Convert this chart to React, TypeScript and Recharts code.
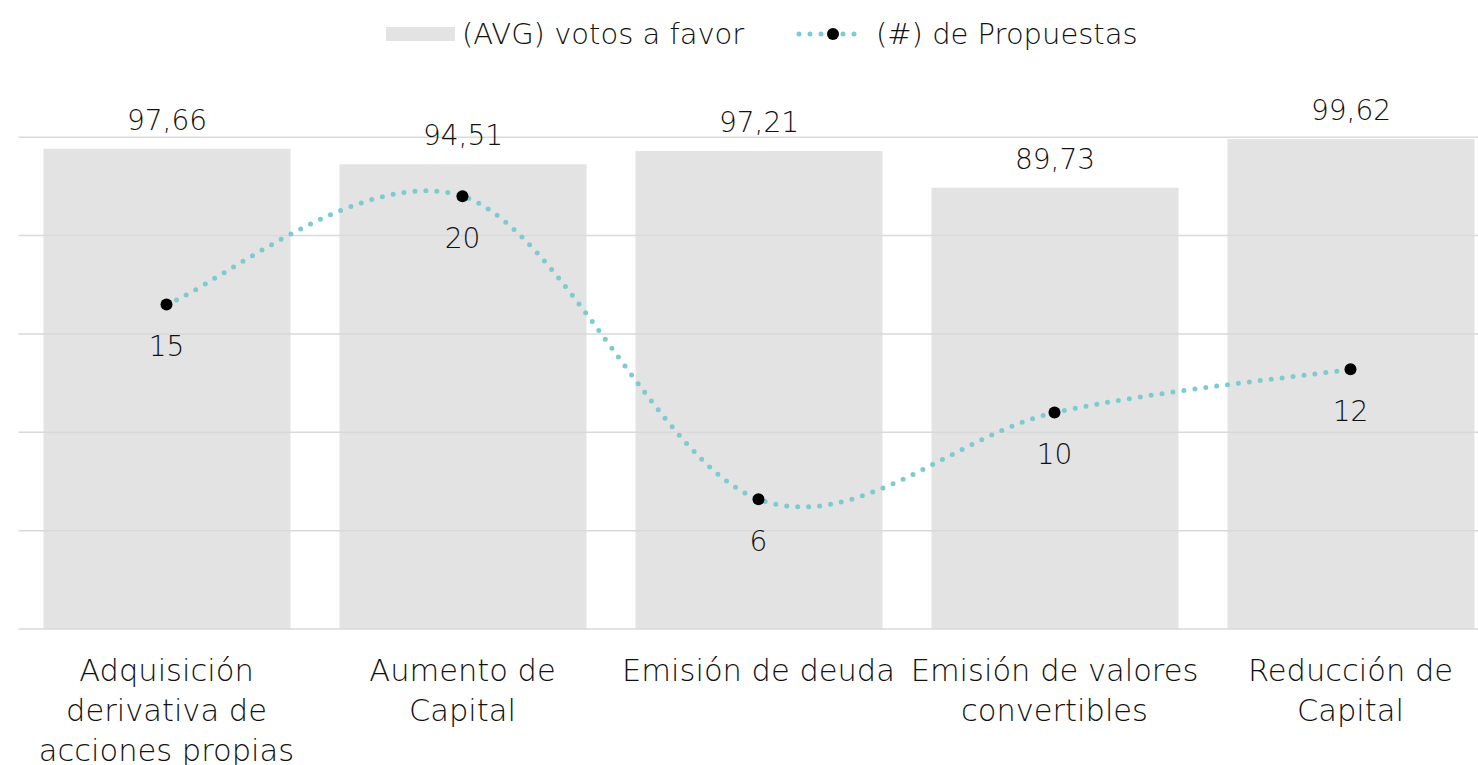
import { ComposedChart, ReferenceLine, XAxis, YAxis, Bar, Line, LabelList } from 'recharts';

const categories = [
  'Adquisición derivativa de acciones propias',
  'Aumento de Capital',
  'Emisión de deuda',
  'Emisión de valores convertibles',
  'Reducción de Capital',
];
const categoryLines = [
  ['Adquisición', 'derivativa de', 'acciones propias'],
  ['Aumento de', 'Capital'],
  ['Emisión de deuda'],
  ['Emisión de valores', 'convertibles'],
  ['Reducción de', 'Capital'],
];
const avgVotes = [97.66, 94.51, 97.21, 89.73, 99.62];
const proposals = [15, 20, 6, 10, 12];
const leftTicks = [0, 20, 40, 60, 80, 100];

const FONT = '"DejaVu Sans", Lato, sans-serif';
const WEIGHT = 200;
const TEXT = '#111';
const BAR = '#e3e3e3';
const TEAL = '#7ecbcf';

const data = categories.map((name, i) => ({
  name,
  votos: avgVotes[i],
  propuestas: proposals[i],
}));

// Excel-style smoothing: cubic bezier with control points at 1/6 of neighbour span
const excelSmooth = (context: any) => {
  let pts: number[][] = [];
  return {
    areaStart() {},
    areaEnd() {},
    lineStart() {
      pts = [];
    },
    point(x: number, y: number) {
      pts.push([+x, +y]);
    },
    lineEnd() {
      if (!pts.length) return;
      context.moveTo(pts[0][0], pts[0][1]);
      for (let i = 0; i < pts.length - 1; i++) {
        const p0 = pts[i - 1] ?? pts[i];
        const p1 = pts[i];
        const p2 = pts[i + 1];
        const p3 = pts[i + 2] ?? pts[i + 1];
        context.bezierCurveTo(
          p1[0] + (p2[0] - p0[0]) / 6,
          p1[1] + (p2[1] - p0[1]) / 6,
          p2[0] - (p3[0] - p1[0]) / 6,
          p2[1] - (p3[1] - p1[1]) / 6,
          p2[0],
          p2[1]
        );
      }
    },
  };
};

function CategoryTick({ x, y, payload }: any) {
  const lines = categoryLines[payload.index] ?? [payload.value];
  return (
    <text x={x} y={y + 44} textAnchor="middle" fill={TEXT} fontSize={30.5} fontFamily={FONT} fontWeight={WEIGHT}>
      {lines.map((l: string, i: number) => (
        <tspan key={i} x={x} dy={i === 0 ? 0 : 40}>
          {l}
        </tspan>
      ))}
    </text>
  );
}

function TopLegend() {
  return (
    <svg width={1478} height={70} style={{ position: 'absolute', left: 0, top: 0 }}>
      <rect x={386} y={27} width={69} height={14} fill={BAR} />
      <text x={462} y={44} fontSize={29} fill={TEXT} fontFamily={FONT} fontWeight={WEIGHT}>
        (AVG) votos a favor
      </text>
      <line
        x1={799}
        y1={34}
        x2={864}
        y2={34}
        stroke={TEAL}
        strokeWidth={5}
        strokeDasharray="0 11"
        strokeLinecap="round"
      />
      <circle cx={833} cy={34} r={6} fill="#000" />
      <text x={876} y={44} fontSize={29} fill={TEXT} fontFamily={FONT} fontWeight={WEIGHT}>
        (#) de Propuestas
      </text>
    </svg>
  );
}

export default function App() {
  return (
    <div
      style={{
        position: 'absolute',
        left: 0,
        top: 0,
        width: 1478,
        height: 765,
        overflow: 'hidden',
        background: '#fff',
      }}
    >
      <ComposedChart
        width={1500}
        height={765}
        data={data}
        margin={{ top: 88, right: 1.5, left: 18.5, bottom: 0 }}
      >
        <XAxis
          dataKey="name"
          height={136}
          axisLine={false}
          tickLine={false}
          interval={0}
          tick={<CategoryTick />}
        />
        <YAxis yAxisId="left" hide domain={[0, 110]} ticks={leftTicks} />
        <YAxis yAxisId="right" orientation="right" hide domain={[0, 25]} />
        {leftTicks.map((t) => (
          <ReferenceLine key={t} yAxisId="left" y={t} stroke="#d9d9d9" strokeWidth={1.5} />
        ))}
        <Bar yAxisId="left" dataKey="votos" fill={BAR} barSize={247} isAnimationActive={false}>
          <LabelList
            dataKey="votos"
            position="top"
            offset={19}
            fill={TEXT}
            fontSize={28}
            fontFamily={FONT}
            fontWeight={WEIGHT}
            formatter={(v: any) => Number(v).toFixed(2).replace('.', ',')}
          />
        </Bar>
        <Line
          yAxisId="right"
          dataKey="propuestas"
          type={excelSmooth as any}
          stroke={TEAL}
          strokeWidth={5}
          strokeDasharray="0 11"
          strokeLinecap="round"
          dot={{ r: 6, fill: '#000', stroke: 'none' }}
          activeDot={false}
          isAnimationActive={false}
        >
          <LabelList
            dataKey="propuestas"
            position="bottom"
            offset={32}
            fill={TEXT}
            fontSize={28}
            fontFamily={FONT}
            fontWeight={WEIGHT}
          />
        </Line>
      </ComposedChart>
      <TopLegend />
    </div>
  );
}
